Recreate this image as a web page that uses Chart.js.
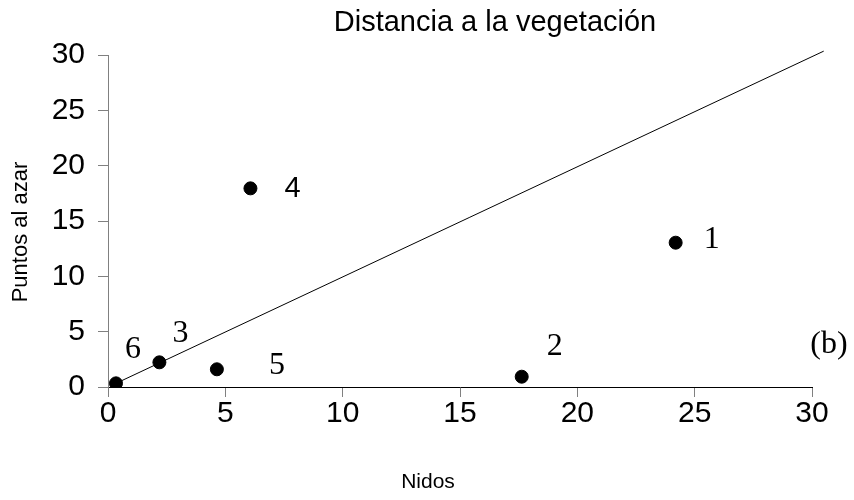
<!DOCTYPE html>
<html>
<head>
<meta charset="utf-8">
<script src="https://cdn.jsdelivr.net/npm/chart.js@4/dist/chart.umd.min.js"></script>
<style>
    html, body { margin: 0; padding: 0; background: #fff; }
    #wrap { width: 854px; height: 500px; }
</style>
</head>
<body>
<div id="wrap"><canvas id="grafico" width="854" height="500"></canvas></div>
<script>
// datos
const nidos     = [24.19, 17.63, 2.19, 6.07, 4.64, 0.34];
const azar      = [13.04, 0.93, 2.23, 17.95, 1.6, 0.33];
const etiquetas = ['1', '2', '3', '4', '5', '6'];

// recta de referencia
const lineaX = [0.34, 30.5];
const lineaY = [0.33, 30.35];

const ticksX = [0, 5, 10, 15, 20, 25, 30];
const ticksY = [0, 5, 10, 15, 20, 25, 30];

const titulo  = 'Distancia a la vegetación';
const tituloX = 'Nidos';
const tituloY = 'Puntos al azar';
const panel   = '(b)';

const sans  = 'Arial, "Liberation Sans", sans-serif';
const serif = '"Times New Roman", "Liberation Serif", serif';

// desplazamiento de cada numero respecto a su punto (px); el 4 va en sans
const desplaz = [[36, -3], [33, -30], [21, -29], [42, 1], [60, -4], [17, -34]];
const fuenteNum = [serif, serif, serif, sans, serif, serif];

const textos = {
    id: 'textos',
    afterDraw(chart) {
        const ctx = chart.ctx;
        const meta = chart.getDatasetMeta(1);
        ctx.save();
        ctx.fillStyle = '#000';
        ctx.textAlign = 'center';
        ctx.textBaseline = 'middle';

        // titulo
        ctx.font = '29px ' + sans;
        ctx.fillText(titulo, 495, 23);

        // titulos de ejes
        ctx.font = '21px ' + sans;
        ctx.fillText(tituloX, 428, 482);
        ctx.save();
        ctx.font = '22px ' + sans;
        ctx.translate(21, 232);
        ctx.rotate(-Math.PI / 2);
        ctx.fillText(tituloY, 0, 0);
        ctx.restore();

        // numeros de los puntos
        meta.data.forEach((pt, i) => {
            ctx.font = (fuenteNum[i] === sans ? '29px ' : '32px ') + fuenteNum[i];
            ctx.fillText(etiquetas[i], pt.x + desplaz[i][0], pt.y + desplaz[i][1]);
        });
        ctx.font = '32px ' + serif;
        ctx.fillText(panel, 829, 345);
        ctx.restore();
    }
};

new Chart(document.getElementById('grafico').getContext('2d'), {
    type: 'scatter',
    data: {
        datasets: [
            {
                type: 'line',
                data: lineaX.map((x, i) => ({ x: x, y: lineaY[i] })),
                borderColor: '#000',
                borderWidth: 1,
                pointRadius: 0,
                fill: false,
                clip: false
            },
            {
                data: nidos.map((x, i) => ({ x: x, y: azar[i] })),
                backgroundColor: '#000',
                borderColor: '#000',
                pointRadius: 6.5,
                pointHoverRadius: 6.5
            }
        ]
    },
    options: {
        responsive: false,
        animation: false,
        layout: { padding: { top: 55, right: 42, left: 0, bottom: 0 } },
        plugins: {
            legend: { display: false },
            tooltip: { enabled: false },
            title: { display: false }
        },
        scales: {
            x: {
                type: 'linear',
                min: 0,
                max: 30,
                afterBuildTicks: s => { s.ticks = ticksX.map(v => ({ value: v })); },
                afterFit: s => { s.height = 113; },
                grid: { drawOnChartArea: false, drawTicks: true, tickLength: 10, tickColor: '#808080' },
                border: { color: '#000', width: 1 },
                ticks: { color: '#000', padding: -1, font: { family: sans, size: 30 } }
            },
            y: {
                type: 'linear',
                min: 0,
                max: 30,
                afterBuildTicks: s => { s.ticks = ticksY.map(v => ({ value: v })); },
                afterFit: s => { s.width = 108; },
                grid: { drawOnChartArea: false, drawTicks: true, tickLength: 10, tickColor: '#808080' },
                border: { color: '#808080', width: 1 },
                ticks: { color: '#000', padding: 13, font: { family: sans, size: 30 } }
            }
        }
    },
    plugins: [textos]
});
</script>
</body>
</html>
